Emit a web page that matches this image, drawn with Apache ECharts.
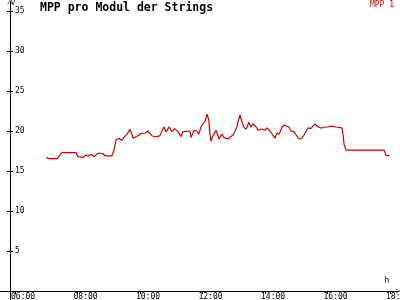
<!DOCTYPE html>
<html><head><meta charset="utf-8">
<script src="https://cdn.jsdelivr.net/npm/echarts@6/dist/echarts.min.js"></script>
<style>html,body{margin:0;padding:0;background:#fff}#c{width:400px;height:300px}</style>
</head><body><div id="c"></div>
<script>
const seriesName = 'MPP 1';
const times = ['07:00','07:05','07:21','07:30','07:57','08:01','08:11','08:16','08:20','08:26','08:32','08:36','08:41','08:49','08:53','09:06','09:10','09:14','09:20','09:25','09:29','09:35','09:41','09:47','09:50','09:56','10:02','10:10','10:15','10:23','10:29','10:38','10:46','10:50','10:56','11:01','11:07','11:13','11:19','11:22','11:36','11:38','11:44','11:49','11:53','11:57','12:01','12:05','12:09','12:12','12:14','12:16','12:20','12:26','12:32','12:37','12:41','12:49','12:53','12:59','13:02','13:06','13:08','13:12','13:16','13:20','13:24','13:27','13:29','13:33','13:37','13:39','13:43','13:47','13:50','13:54','14:00','14:04','14:10','14:15','14:19','14:23','14:27','14:33','14:37','14:42','14:46','14:50','14:56','15:00','15:03','15:07','15:11','15:15','15:19','15:23','15:28','15:32','15:36','15:40','15:46','15:51','15:55','16:01','16:07','16:16','16:28','16:30','16:32','16:36','17:49','17:50','17:52','17:59'];
const values = [16.7,16.55,16.55,17.3,17.3,16.8,16.7,17.0,16.85,17.1,16.8,17.05,17.25,17.15,16.9,16.9,17.6,18.9,19.1,18.8,19.2,19.6,20.2,19.1,19.15,19.4,19.7,19.75,20.0,19.4,19.25,19.4,20.5,19.9,20.5,19.9,20.3,19.9,19.3,19.9,20.0,19.2,20.1,20.0,19.6,20.5,20.9,21.25,22.1,21.4,19.9,18.7,19.4,20.1,19.0,19.6,19.2,19.0,19.25,19.5,19.9,20.5,21.1,22.0,21.1,20.4,20.25,20.75,21.1,20.5,20.9,21.1,20.5,20.1,20.0,20.25,20.1,20.4,20.0,19.5,19.1,19.75,19.6,20.5,20.75,20.6,20.5,20.0,19.9,19.5,19.2,19.0,19.1,19.5,20.0,20.4,20.3,20.6,20.9,20.6,20.4,20.4,20.5,20.5,20.6,20.5,20.4,19.5,18.25,17.6,17.6,17.8,16.95,16.9];
const xTicks = [6,8,10,12,14,16,18];
const yTicks = [5,10,15,20,25,30,35];

const toH = t => { const p = t.split(':'); return +p[0] + (+p[1]) / 60; };
const data = times.map((t, i) => [toH(t), values[i]]);
const pad = n => (n < 10 ? '0' : '') + n;
const font = 'DejaVu Sans Mono';
const arrow = 'path://M0,10 L5,0 L10,10 L9,10 L5,2 L1,10 Z';
// labels start slightly left of their tick (left-aligned)
const labelShift = 0.128;
const xLabelValues = xTicks.map(v => v - labelShift);

const chart = echarts.init(document.getElementById('c'), null, {renderer: 'canvas'});
const xBase = {
  type: 'value', min: 5.84, max: 18.256, splitLine: {show: false},
  axisTick: {customValues: xTicks, length: 3, lineStyle: {color: '#000'}}
};
const yBase = {
  type: 'value', min: 0, max: 36.125, position: 'left', splitLine: {show: false},
  axisTick: {customValues: yTicks, length: 3, lineStyle: {color: '#000'}}
};
chart.setOption({
  animation: false,
  backgroundColor: '#fff',
  title: {text: 'MPP pro Modul der Strings', left: 40, top: 2, padding: 0,
    textStyle: {fontFamily: font, fontSize: 11.5, fontWeight: 'bold', color: '#000'}},
  legend: {right: 6, top: 1, padding: 0, icon: 'none', itemWidth: 0, itemHeight: 0, itemGap: 0,
    data: [seriesName], textStyle: {fontFamily: font, fontSize: 8, color: '#c00000', padding: 0}},
  grid: {left: 10, right: 2, top: 2, bottom: 9, containLabel: false, outerBoundsMode: 'none'},
  xAxis: [
    Object.assign({}, xBase, {
      name: 'h', nameLocation: 'end', nameGap: -11,
      nameTextStyle: {fontFamily: font, fontSize: 8, color: '#000', align: 'center', verticalAlign: 'bottom', padding: [0,0,6,0]},
      axisLine: {show: true, lineStyle: {color: '#000', width: 1}, symbol: ['none', arrow], symbolSize: [7, 5]},
      axisTick: Object.assign({}, xBase.axisTick, {inside: false}),
      axisLabel: {customValues: xLabelValues, margin: 2, align: 'left', fontFamily: font, fontSize: 8, color: '#000',
        formatter: v => pad(Math.round(v)) + ':00'}
    }),
    Object.assign({}, xBase, {
      axisLine: {show: false},
      axisTick: Object.assign({}, xBase.axisTick, {inside: true}),
      axisLabel: {show: false}
    })
  ],
  yAxis: [
    Object.assign({}, yBase, {
      name: 'V', nameLocation: 'end', nameGap: 2,
      nameTextStyle: {fontFamily: font, fontSize: 7, color: '#000', align: 'left', verticalAlign: 'top', padding: [0,0,0,1]},
      axisLine: {show: true, lineStyle: {color: '#000', width: 1}, symbol: ['none', arrow], symbolSize: [7, 5]},
      axisTick: Object.assign({}, yBase.axisTick, {inside: true}),
      axisLabel: {customValues: yTicks, inside: true, margin: 5, fontFamily: font, fontSize: 8, color: '#000'}
    }),
    Object.assign({}, yBase, {
      axisLine: {show: false},
      axisTick: Object.assign({}, yBase.axisTick, {inside: false}),
      axisLabel: {show: false}
    })
  ],
  graphic: [
    {type: 'line', shape: {x1: 0, y1: 291.5, x2: 10, y2: 291.5}, style: {stroke: '#000', lineWidth: 1}},
    {type: 'line', shape: {x1: 10.5, y1: 291, x2: 10.5, y2: 300}, style: {stroke: '#000', lineWidth: 1}}
  ],
  series: [{
    name: seriesName, type: 'line', data: data, showSymbol: false, symbol: 'none',
    lineStyle: {color: '#cc0000', width: 1.2}, itemStyle: {color: '#cc0000'}
  }]
});
</script></body></html>
